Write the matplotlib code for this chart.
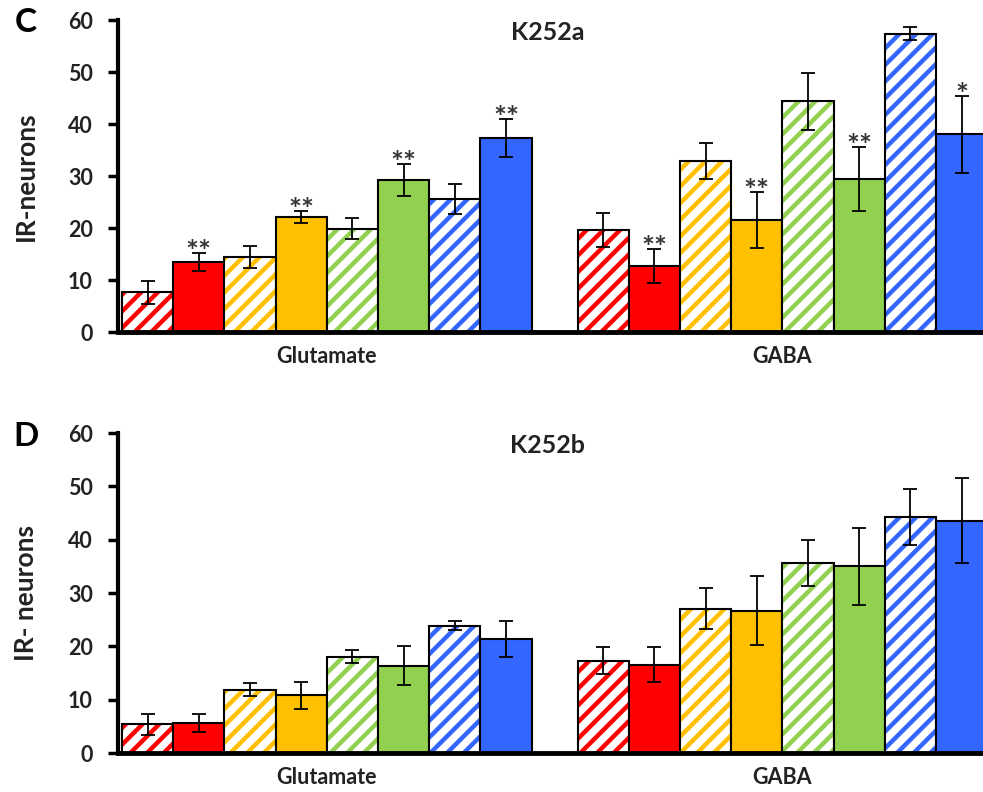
import numpy as np
import matplotlib
matplotlib.use('Agg')
import matplotlib.pyplot as plt

plt.rcParams['font.family'] = ['Lato', 'DejaVu Sans']
plt.rcParams['hatch.linewidth'] = 3.2

# groups and bar series (hatched / solid pairs for each colour)
groups = ['Glutamate', 'GABA']
bar_colors = ['#FF0000', '#FF0000', '#FFC000', '#FFC000',
              '#92D050', '#92D050', '#3366FF', '#3366FF']
bar_hatched = [True, False, True, False, True, False, True, False]

# panel C: K252a
c_glu = [7.6, 13.5, 14.4, 22.1, 19.9, 29.2, 25.6, 37.3]
c_glu_err = [2.2, 1.7, 2.1, 1.1, 2.0, 3.1, 2.9, 3.6]
c_glu_sig = ['', '**', '', '**', '', '**', '', '**']
c_gaba = [19.6, 12.7, 32.9, 21.5, 44.4, 29.4, 57.4, 38.0]
c_gaba_err = [3.2, 3.3, 3.4, 5.4, 5.5, 6.2, 1.2, 7.4]
c_gaba_sig = ['', '**', '', '**', '', '**', '', '*']

# panel D: K252b
d_glu = [5.4, 5.6, 11.9, 10.8, 18.1, 16.4, 23.9, 21.4]
d_glu_err = [2.0, 1.7, 1.2, 2.5, 1.3, 3.7, 0.8, 3.3]
d_gaba = [17.3, 16.6, 27.1, 26.7, 35.7, 35.0, 44.3, 43.6]
d_gaba_err = [2.5, 3.2, 3.8, 6.5, 4.3, 7.2, 5.3, 7.9]

text_col = '#222222'
group_step = 8.9


def draw_panel(ax, values, errors, signs, title, ylabel):
    for g, (vals, errs) in enumerate(zip(values, errors)):
        x = np.arange(8) + 0.5 + g * group_step
        for i in range(8):
            if bar_hatched[i]:
                ax.bar(x[i], vals[i], width=1.0, color='white',
                       edgecolor=bar_colors[i], hatch='//', linewidth=0)
                ax.bar(x[i], vals[i], width=1.0, fill=False,
                       edgecolor='black', linewidth=1.5)
            else:
                ax.bar(x[i], vals[i], width=1.0, color=bar_colors[i],
                       edgecolor='black', linewidth=1.5)
        ax.errorbar(x, vals, yerr=errs, fmt='none', ecolor='black',
                    elinewidth=1.3, capsize=5, capthick=1.3)
        if signs is not None:
            for i, s in enumerate(signs[g]):
                if s:
                    ax.text(x[i], vals[i] + errs[i] - 1.7, s, ha='center',
                            va='baseline', fontsize=22, fontweight='bold',
                            color='#333333')

    ax.set_ylim(0, 60)
    ax.set_xlim(-0.08, 16.82)
    ax.set_yticks(range(0, 61, 10))
    ax.set_xticks([4.0, 4.0 + group_step])
    ax.set_xticklabels(groups, fontsize=15.5, fontweight='bold', color=text_col)
    ax.tick_params(axis='x', length=0, pad=10)
    ax.tick_params(axis='y', direction='out', length=7, width=2.5,
                   labelsize=15.5, labelcolor=text_col, pad=11)
    for lbl in ax.get_yticklabels():
        lbl.set_fontweight('bold')
    ax.spines['top'].set_visible(False)
    ax.spines['right'].set_visible(False)
    ax.spines['left'].set_linewidth(3)
    ax.spines['bottom'].set_linewidth(3.5)
    ax.spines['bottom'].set_zorder(5)
    ax.set_ylabel(ylabel, fontsize=19, fontweight='bold', color=text_col)
    ax.yaxis.set_label_coords(-0.0925, 0.5)
    ax.text(0.497, 0.96, title, transform=ax.transAxes, ha='center',
            va='center', fontsize=18, fontweight='bold', color=text_col)


fig = plt.figure(figsize=(9.83, 7.92), dpi=100)
ax_c = fig.add_axes([0.120, 0.5808, 0.880, 0.3939])
ax_d = fig.add_axes([0.120, 0.0492, 0.880, 0.4040])

draw_panel(ax_c, [c_glu, c_gaba], [c_glu_err, c_gaba_err],
           [c_glu_sig, c_gaba_sig], 'K252a', 'IR-neurons')
draw_panel(ax_d, [d_glu, d_gaba], [d_glu_err, d_gaba_err], None,
           'K252b', 'IR- neurons')

fig.text(26 / 983, 1 - 22 / 792, 'C', fontsize=24, fontweight='bold',
         ha='center', va='center', color='black')
fig.text(26 / 983, 1 - 437 / 792, 'D', fontsize=24, fontweight='bold',
         ha='center', va='center', color='black')

fig.savefig('out.png', dpi=100)
